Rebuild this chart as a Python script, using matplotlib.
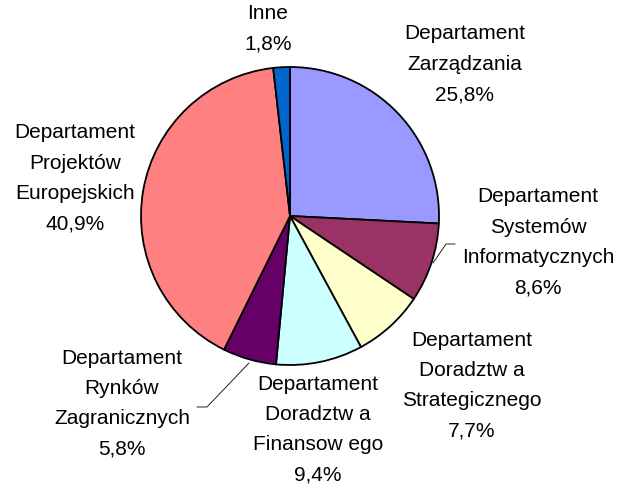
import matplotlib
matplotlib.use("Agg")
import matplotlib.pyplot as plt

labels = ["Departament\nZarządzania", "Departament\nSystemów\nInformatycznych",
          "Departament\nDoradztw a\nStrategicznego", "Departament\nDoradztw a\nFinansow ego",
          "Departament\nRynków\nZagranicznych", "Departament\nProjektów\nEuropejskich", "Inne"]
values = [25.8, 8.6, 7.7, 9.4, 5.8, 40.9, 1.8]
value_labels = ["25,8%", "8,6%", "7,7%", "9,4%", "5,8%", "40,9%", "1,8%"]
colors = ["#9999FF", "#993366", "#FFFFCC", "#CCFFFF", "#660066", "#FF8080", "#0066CC"]

W, H = 635, 486
fig = plt.figure(figsize=(W / 100, H / 100), dpi=100)
ax = fig.add_axes([0, 0, 1, 1])

cx, cy, r = 290, H - 216, 149
ax.pie(values, colors=colors, startangle=90, counterclock=False, center=(cx, cy), radius=r,
       wedgeprops=dict(edgecolor="black", linewidth=1.3), frame=True)
ax.set_xlim(0, W)
ax.set_ylim(0, H)
ax.set_aspect("equal")
ax.axis("off")

# label centers (x, y of top line) in pixel coords from top
label_pos = [(465, 34), (538, 197), (472, 340), (318, 384), (122, 358), (75, 133), (268, 14)]
for lab, vl, (x, y) in zip(labels, value_labels, label_pos):
    lines = lab.split("\n") + [vl]
    for i, ln in enumerate(lines):
        ax.text(x, H - (y + 30.3 * i), ln, ha="center", va="center", fontsize=15,
                family="Liberation Sans")

# leader lines
ax.plot([433, 446, 455], [H - 263, H - 244, H - 244], color="black", lw=0.6)
ax.plot([249, 207, 197], [H - 363, H - 407, H - 407], color="black", lw=0.6)

fig.savefig("out.png", dpi=100)
